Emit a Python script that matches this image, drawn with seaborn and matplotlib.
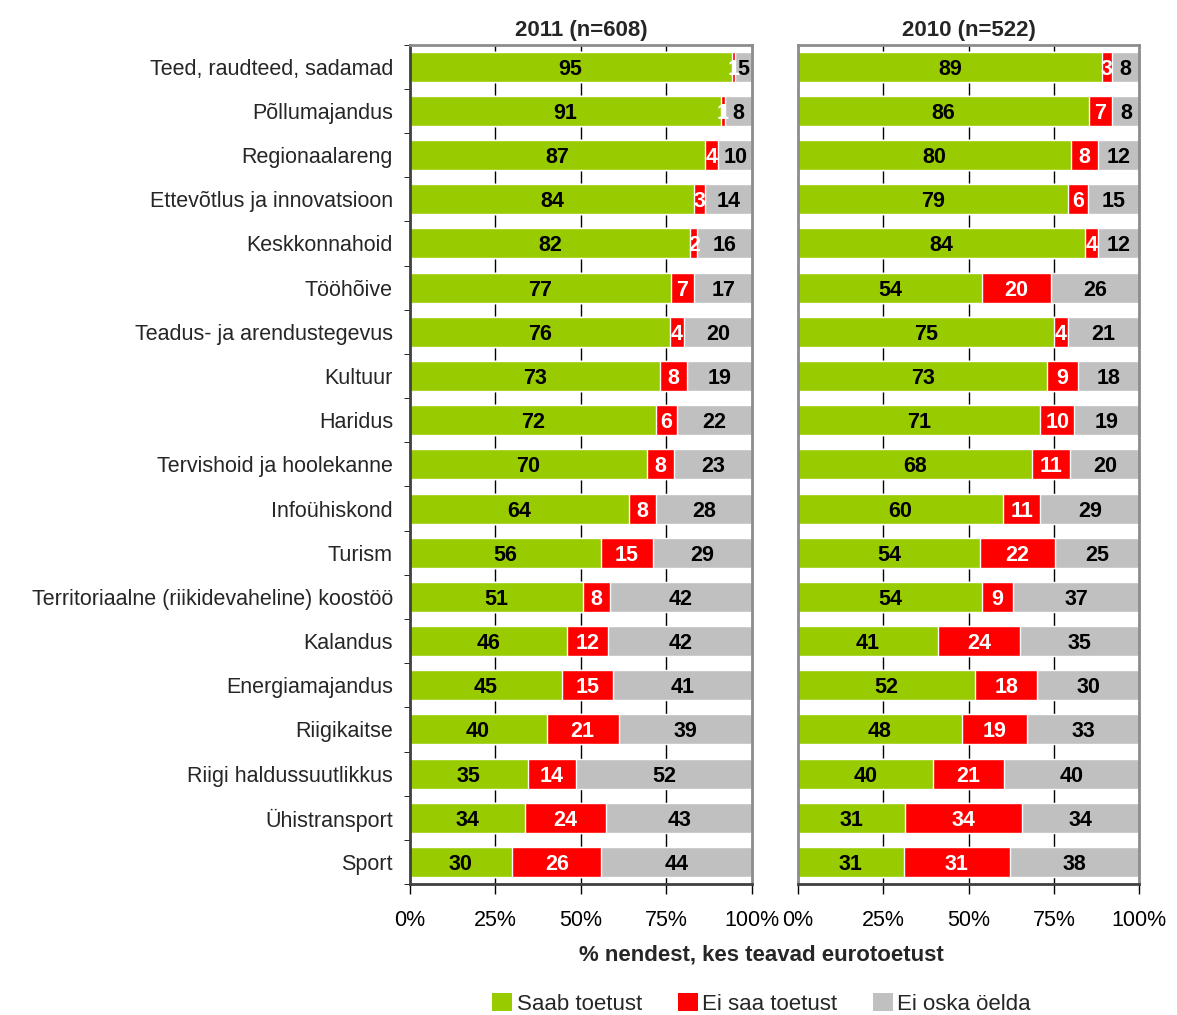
import numpy as np
import pandas as pd
import matplotlib
matplotlib.use("Agg")
import matplotlib.pyplot as plt
from matplotlib import font_manager
from matplotlib.patches import Patch
import seaborn as sns

# Data
categories = [
    "Teed, raudteed, sadamad", "Põllumajandus", "Regionaalareng",
    "Ettevõtlus ja innovatsioon", "Keskkonnahoid", "Tööhõive",
    "Teadus- ja arendustegevus", "Kultuur", "Haridus",
    "Tervishoid ja hoolekanne", "Infoühiskond", "Turism",
    "Territoriaalne (riikidevaheline) koostöö", "Kalandus",
    "Energiamajandus", "Riigikaitse", "Riigi haldussuutlikkus",
    "Ühistransport", "Sport",
]

yes_2011 = [95, 91, 87, 84, 82, 77, 76, 73, 72, 70, 64, 56, 51, 46, 45, 40, 35, 34, 30]
no_2011 = [1, 1, 4, 3, 2, 7, 4, 8, 6, 8, 8, 15, 8, 12, 15, 21, 14, 24, 26]
dk_2011 = [5, 8, 10, 14, 16, 17, 20, 19, 22, 23, 28, 29, 42, 42, 41, 39, 52, 43, 44]

yes_2010 = [89, 86, 80, 79, 84, 54, 75, 73, 71, 68, 60, 54, 54, 41, 52, 48, 40, 31, 31]
no_2010 = [3, 7, 8, 6, 4, 20, 4, 9, 10, 11, 11, 22, 9, 24, 18, 19, 21, 34, 31]
dk_2010 = [8, 8, 12, 15, 12, 26, 21, 18, 19, 20, 29, 25, 37, 35, 30, 33, 40, 34, 38]

panel_titles = ["2011 (n=608)", "2010 (n=522)"]
series_names = ["Saab toetust", "Ei saa toetust", "Ei oska öelda"]
series_colors = ["#99CC00", "#FF0000", "#C0C0C0"]
text_colors = ["black", "white", "black"]
x_ticks = [0, 25, 50, 75, 100]
x_ticklabels = ["0%", "25%", "50%", "75%", "100%"]
x_label = "% nendest, kes teavad eurotoetust"

# keep the narrow Liberation cut from being picked for "Liberation Sans"
font_manager.fontManager.ttflist = [
    f for f in font_manager.fontManager.ttflist if "Narrow" not in f.fname
]
font_manager.fontManager._findfont_cached.cache_clear()

sns.set_style("white")
plt.rcParams['font.family'] = ['Liberation Sans', 'DejaVu Sans']

fig = plt.figure(figsize=(11.77, 10.15), dpi=100)
ax_left = fig.add_axes([0.348, 0.129, 0.291, 0.827])
ax_right = fig.add_axes([0.678, 0.129, 0.290, 0.827])


def draw_panel(ax, yes, no, dk, title, show_labels):
    df = pd.DataFrame({"cat": categories, "yes": yes, "no": no, "dk": dk})
    # 100% stacked: rounded shares are rescaled so every bar fills the axis
    total = df["yes"] + df["no"] + df["dk"]
    df["c1"] = df["yes"] / total * 100
    df["c2"] = (df["yes"] + df["no"]) / total * 100
    df["c3"] = 100.0

    # back to front so the shorter cumulative bars sit on top
    for col, color in zip(["c3", "c2", "c1"], series_colors[::-1]):
        sns.barplot(data=df, x=col, y="cat", orient="h", color=color,
                    width=0.68, saturation=1, ax=ax, zorder=2)

    for i, row in df.iterrows():
        starts = [0, row["c1"], row["c2"]]
        ends = [row["c1"], row["c2"], row["c3"]]
        vals = [row["yes"], row["no"], row["dk"]]
        for s, e, v, tc in zip(starts, ends, vals, text_colors):
            ax.text((s + e) / 2, i, str(v), ha="center", va="center_baseline",
                    color=tc, fontsize=15.5, fontweight="bold", zorder=3)

    ax.set_xlim(0, 100)
    ax.set_ylim(len(categories) - 0.5, -0.5)
    ax.set_xticks(x_ticks)
    ax.set_xticklabels(x_ticklabels, fontsize=15.5)
    ax.tick_params(axis="x", direction="out", length=7, width=1, pad=12,
                   bottom=True, colors="black")
    for x in x_ticks[1:-1]:
        ax.axvline(x, color="black", lw=1, zorder=1)

    ax.set_yticks(np.arange(len(categories)))
    if show_labels:
        ax.set_yticklabels(categories, fontsize=15.5)
    else:
        ax.set_yticklabels([])
    ax.tick_params(axis="y", which="major", length=0, pad=12)
    ax.set_yticks(np.arange(len(categories) + 1) - 0.5, minor=True)
    ax.tick_params(axis="y", which="minor", direction="out", length=4,
                   left=show_labels, color="black")

    ax.set_xlabel("")
    ax.set_ylabel("")
    ax.set_title(title, fontsize=16, fontweight="bold", pad=6)

    for side in ["top", "right"]:
        ax.spines[side].set_visible(True)
        ax.spines[side].set_color("#8C8C8C")
        ax.spines[side].set_linewidth(2)
    for side in ["left", "bottom"]:
        ax.spines[side].set_visible(True)
        ax.spines[side].set_linewidth(2)
    ax.spines["left"].set_color("#404040" if show_labels else "#8C8C8C")
    ax.spines["bottom"].set_color("#404040")


draw_panel(ax_left, yes_2011, no_2011, dk_2011, panel_titles[0], True)
draw_panel(ax_right, yes_2010, no_2010, dk_2010, panel_titles[1], False)

fig.text(0.647, 0.059, x_label, ha="center", va="center",
         fontsize=16, fontweight="bold")

handles = [Patch(facecolor=c, edgecolor="none") for c in series_colors]
fig.legend(handles, series_names, loc="center", bbox_to_anchor=(0.647, 0.011),
           ncol=3, frameon=False, fontsize=16, handlelength=0.9,
           handleheight=0.9, handletextpad=0.2, columnspacing=1.6)

fig.savefig("out.png", dpi=100)
